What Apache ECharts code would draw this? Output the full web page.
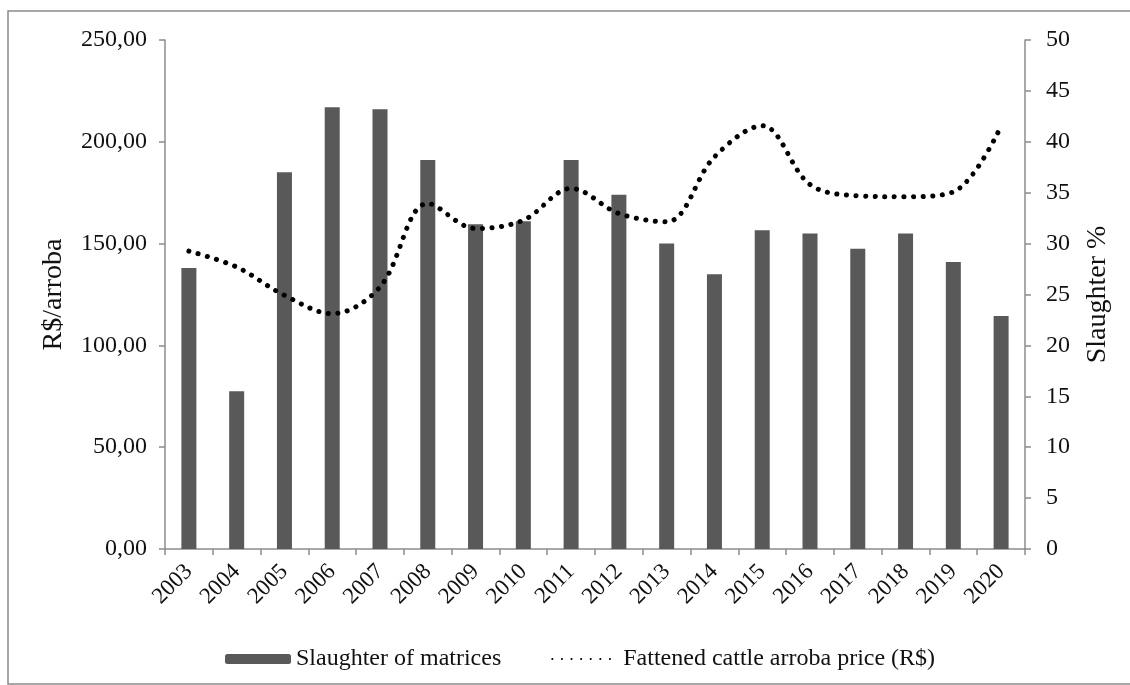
<!DOCTYPE html>
<html>
<head>
<meta charset="utf-8">
<script src="https://cdn.jsdelivr.net/npm/echarts@6/dist/echarts.min.js"></script>
<style>
  html, body { margin: 0; padding: 0; background: #fff; }
  #chart { width: 1130px; height: 685px; }
</style>
</head>
<body>
<div id="chart"></div>
<script>
// years on the x axis
const years = ['2003', '2004', '2005', '2006', '2007', '2008', '2009', '2010', '2011',
  '2012', '2013', '2014', '2015', '2016', '2017', '2018', '2019', '2020'];
// slaughter of matrices, % (right axis)
const slaughterPct = [27.6, 15.5, 37.0, 43.4, 43.2, 38.2, 31.9, 32.2, 38.2,
  34.8, 30.0, 27.0, 31.3, 31.0, 29.5, 31.0, 28.2, 22.9];
// fattened cattle arroba price, R$ (left axis)
const arrobaPrice = [146.3, 138.5, 124.6, 115.6, 128.7, 169.7, 157.4, 161.5, 177.1,
  164.8, 160.7, 192.6, 207.9, 179.0, 173.5, 173.0, 175.4, 207.7];

const font = 'Liberation Serif, Times New Roman, serif';
const axisGray = '#8c8c8c';

const chart = echarts.init(document.getElementById('chart'));

chart.setOption({
  animation: false,
  backgroundColor: '#fff',
  textStyle: { fontFamily: font, color: '#111' },
  graphic: [{
    type: 'rect',
    shape: { x: 8, y: 11, width: 1140, height: 673 },
    style: { fill: 'none', stroke: '#8a8a8a', lineWidth: 1.5 },
    silent: true
  }],
  grid: {
    left: 165,
    right: 105,
    top: 40,
    bottom: 136
  },
  legend: {
    top: 642,
    left: 220,
    itemWidth: 66,
    itemHeight: 10,
    itemGap: 50,
    textStyle: { fontFamily: font, fontSize: 24, color: '#111' },
    data: [
      { name: 'Slaughter of matrices' },
      { name: 'Fattened cattle arroba price (R$)', itemStyle: { opacity: 0 } }
    ]
  },
  xAxis: {
    type: 'category',
    data: years,
    boundaryGap: true,
    axisLine: { lineStyle: { color: axisGray, width: 1.5 } },
    axisTick: { show: true, length: 6, alignWithLabel: false, lineStyle: { color: axisGray, width: 1.5 } },
    axisLabel: {
      rotate: 45,
      margin: 19,
      fontSize: 23,
      fontFamily: font,
      color: '#111',
      interval: 0
    },
    splitLine: { show: false }
  },
  yAxis: [{
    type: 'value',
    min: 0,
    max: 250,
    interval: 50,
    position: 'left',
    name: 'R$/arroba',
    nameLocation: 'middle',
    nameGap: 97,
    nameTextStyle: { fontFamily: font, fontSize: 28, color: '#111' },
    axisLine: { show: true, lineStyle: { color: axisGray, width: 1.5 } },
    axisTick: { show: true, length: 6, lineStyle: { color: axisGray, width: 1.5 } },
    axisLabel: {
      margin: 18,
      fontSize: 24,
      fontFamily: font,
      color: '#111',
      formatter: v => v.toFixed(2).replace('.', ',')
    },
    splitLine: { show: false }
  }, {
    type: 'value',
    min: 0,
    max: 50,
    interval: 5,
    position: 'right',
    name: 'Slaughter %',
    nameLocation: 'middle',
    nameGap: 59,
    nameRotate: 90,
    nameTextStyle: { fontFamily: font, fontSize: 28, color: '#111' },
    axisLine: { show: true, lineStyle: { color: axisGray, width: 1.5 } },
    axisTick: { show: true, length: 6, lineStyle: { color: axisGray, width: 1.5 } },
    axisLabel: {
      margin: 21,
      fontSize: 24,
      fontFamily: font,
      color: '#111'
    },
    splitLine: { show: false }
  }],
  series: [{
    name: 'Slaughter of matrices',
    type: 'bar',
    yAxisIndex: 1,
    data: slaughterPct,
    barWidth: 15,
    itemStyle: { color: '#595959' }
  }, {
    name: 'Fattened cattle arroba price (R$)',
    type: 'line',
    yAxisIndex: 0,
    data: arrobaPrice,
    smooth: 0.35,
    showSymbol: false,
    symbol: 'none',
    itemStyle: { color: '#000' },
    lineStyle: {
      color: '#000',
      width: 5,
      type: [0.1, 9.5],
      cap: 'round'
    }
  }]
});
</script>
</body>
</html>
